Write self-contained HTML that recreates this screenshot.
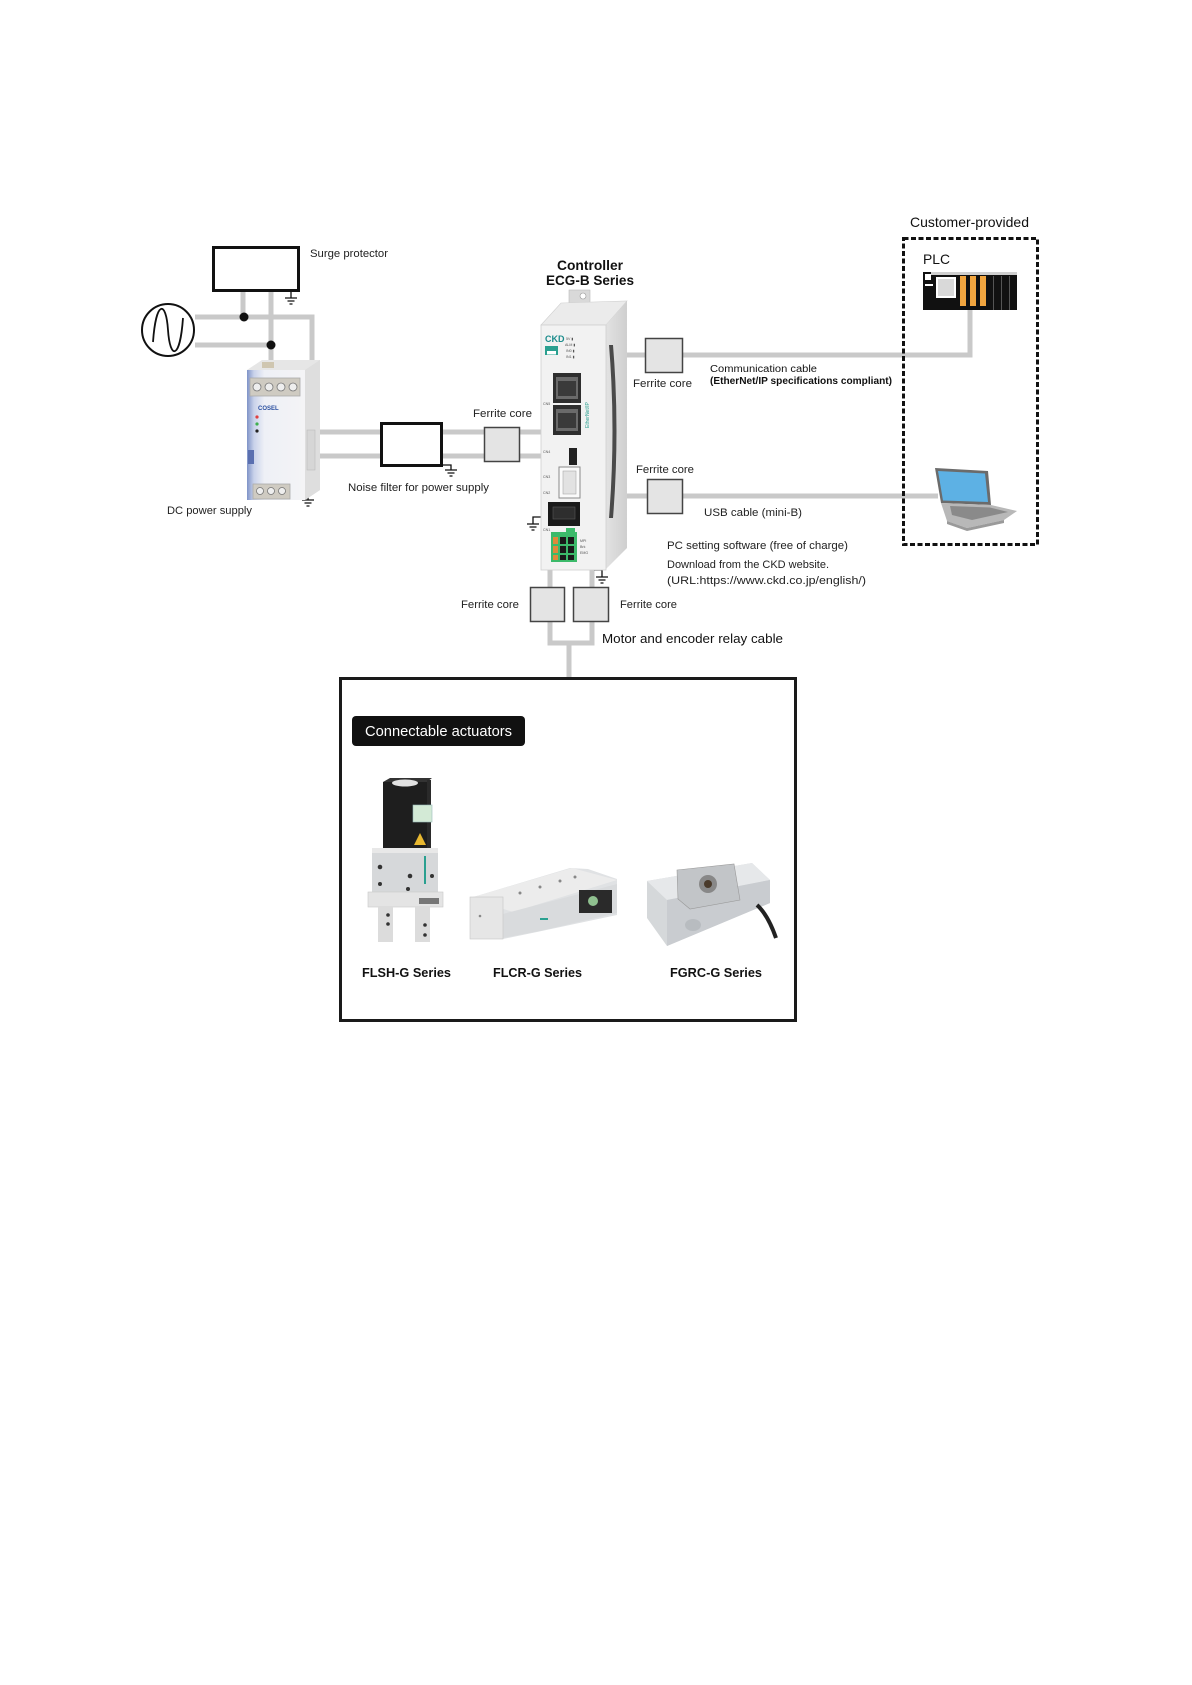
<!DOCTYPE html>
<html>
<head>
<meta charset="utf-8">
<style>
html,body{margin:0;padding:0;background:#fff;}
svg{display:block;}
text{font-family:"Liberation Sans",Arial,sans-serif;}
</style>
</head>
<body>
<svg width="1192" height="1685" viewBox="0 0 1192 1685" xmlns="http://www.w3.org/2000/svg">
<rect width="1192" height="1685" fill="#fff"/>

<!-- ===== wiring (gray cables) ===== -->
<g stroke="#c9c9c9" stroke-width="5" fill="none">
  <path d="M195 317 H312 V364"/>
  <path d="M195 345 H271"/>
  <path d="M243 292 V317"/>
  <path d="M271 292 V364"/>
  <path d="M320 432 H380 M443 432 H484 M520 432 H542"/>
  <path d="M320 456 H380 M443 456 H484 M520 456 H542"/>
  <path d="M626 355 H645 M683 355 H970 V310"/>
  <path d="M626 496 H647 M683 496 H938"/>
  <path d="M550 566 V587 M592 566 V587"/>
  <path d="M550 621 V643 H592 V621"/>
  <path d="M569 643 V677"/>
</g>

<!-- junction dots -->
<circle cx="244" cy="317" r="4.5" fill="#111"/>
<circle cx="271" cy="345" r="4.5" fill="#111"/>

<!-- AC source -->
<circle cx="168" cy="330" r="26" fill="#fff" stroke="#111" stroke-width="2"/>
<path d="M153 342 C156 300, 166 300, 168 330 C170 360, 180 360, 183 318" fill="none" stroke="#111" stroke-width="1.8"/>

<!-- Surge protector -->
<rect x="213.5" y="247.5" width="85" height="43" fill="#fff" stroke="#111" stroke-width="3"/>
<text x="310" y="257" font-size="11" textLength="78" lengthAdjust="spacingAndGlyphs" fill="#222">Surge protector</text>

<!-- ground symbols -->
<g stroke="#111" stroke-width="1.3" fill="none">
  <path d="M291 292 V298 M285 298 H297 M287.5 301 H294.5 M289.5 304 H292.5"/>
  <path d="M443 465 H451 V470 M445 470 H457 M447.5 473 H454.5 M449.5 476 H452.5"/>
  <path d="M302 493 H308 V500 M302 500 H314 M304.5 503 H311.5 M306.5 506 H309.5"/>
  <path d="M541 517 H533 V524 M527 524 H539 M529.5 527 H536.5 M531.5 530 H534.5"/>
  <path d="M594 570 H602 V577 M596 577 H608 M598.5 580 H605.5 M600.5 583 H603.5"/>
</g>

<!-- DC power supply (PSU picture) -->
<defs>
  <linearGradient id="psuFront" x1="0" x2="1" y1="0" y2="0">
    <stop offset="0" stop-color="#7f93c8"/>
    <stop offset="0.12" stop-color="#c9d2ea"/>
    <stop offset="0.3" stop-color="#eef0f6"/>
    <stop offset="1" stop-color="#f4f4f6"/>
  </linearGradient>
  <linearGradient id="ctrlSide" x1="0" x2="1" y1="0" y2="0">
    <stop offset="0" stop-color="#e2e2e2"/>
    <stop offset="1" stop-color="#cfcfcf"/>
  </linearGradient>
</defs>
<polygon points="247,370 262,360 320,360 320,490 305,500 247,500" fill="#e6e6e6"/>
<rect x="247" y="370" width="58" height="130" fill="url(#psuFront)"/>
<polygon points="305,370 320,360 320,490 305,500" fill="#dedede"/>
<rect x="262" y="362" width="12" height="6" fill="#cfc6b0"/>
<rect x="250" y="378" width="50" height="18" fill="#cfcbc2" stroke="#aaa" stroke-width="0.8"/>
<g fill="#eee" stroke="#777" stroke-width="0.8">
  <circle cx="257" cy="387" r="4"/><circle cx="269" cy="387" r="4"/><circle cx="281" cy="387" r="4"/><circle cx="293" cy="387" r="4"/>
</g>
<text x="258" y="410" font-size="6" font-weight="bold" fill="#2a4fa0">COSEL</text>
<circle cx="257" cy="417" r="1.6" fill="#e04040"/>
<circle cx="257" cy="424" r="1.6" fill="#40b050"/>
<circle cx="257" cy="431" r="1.6" fill="#222"/>
<rect x="248" y="450" width="6" height="14" fill="#5a6fb0"/>
<rect x="307" y="430" width="8" height="40" fill="#d6d6d6" stroke="#bbb" stroke-width="0.6"/>
<rect x="253" y="484" width="37" height="15" fill="#cfcbc2" stroke="#aaa" stroke-width="0.8"/>
<g fill="#eee" stroke="#777" stroke-width="0.8">
  <circle cx="260" cy="491" r="3.5"/><circle cx="271" cy="491" r="3.5"/><circle cx="282" cy="491" r="3.5"/>
</g>
<text x="167" y="514" font-size="11" textLength="85" lengthAdjust="spacingAndGlyphs" fill="#222">DC power supply</text>

<!-- Noise filter -->
<rect x="381.5" y="423.5" width="60" height="42" fill="#fff" stroke="#111" stroke-width="3"/>
<text x="348" y="491" font-size="11" textLength="141" lengthAdjust="spacingAndGlyphs" fill="#222">Noise filter for power supply</text>

<!-- Ferrite cores -->
<g fill="#e4e4e4" stroke="#444" stroke-width="1.5">
  <rect x="484.5" y="427.5" width="35" height="34"/>
  <rect x="645.5" y="338.5" width="37" height="34"/>
  <rect x="647.5" y="479.5" width="35" height="34"/>
  <rect x="530.5" y="587.5" width="34" height="34"/>
  <rect x="573.5" y="587.5" width="35" height="34"/>
</g>
<text x="473" y="417" font-size="11" textLength="59" lengthAdjust="spacingAndGlyphs" fill="#222">Ferrite core</text>
<text x="633" y="387" font-size="11" textLength="59" lengthAdjust="spacingAndGlyphs" fill="#222">Ferrite core</text>
<text x="636" y="473" font-size="11" textLength="58" lengthAdjust="spacingAndGlyphs" fill="#222">Ferrite core</text>
<text x="461" y="608" font-size="11" textLength="58" lengthAdjust="spacingAndGlyphs" fill="#222">Ferrite core</text>
<text x="620" y="608" font-size="11" textLength="57" lengthAdjust="spacingAndGlyphs" fill="#222">Ferrite core</text>

<!-- Controller title -->
<text x="557" y="270" font-size="14" font-weight="bold" textLength="66" lengthAdjust="spacingAndGlyphs" fill="#111">Controller</text>
<text x="546" y="285" font-size="14" font-weight="bold" textLength="88" lengthAdjust="spacingAndGlyphs" fill="#111">ECG-B Series</text>

<!-- Controller body -->
<rect x="569" y="290" width="21" height="18" fill="#d9d9d9" stroke="#bbb" stroke-width="0.6"/>
<circle cx="583" cy="296" r="3" fill="#fff" stroke="#999" stroke-width="0.6"/>
<polygon points="541,325 561,303 627,301 606,325" fill="#ebebeb" stroke="#d0d0d0" stroke-width="0.6"/>
<polygon points="606,325 627,301 627,548 606,569" fill="url(#ctrlSide)"/>
<path d="M609 345 Q616 430 609 518 L613 518 Q620 430 613 345 Z" fill="#4a4a4a"/>
<rect x="541" y="325" width="65" height="245" fill="#f2f2f2" stroke="#cfcfcf" stroke-width="0.8"/>
<text x="545" y="342" font-size="9" font-weight="bold" fill="#1c8c8c">CKD</text>
<rect x="545" y="346" width="13" height="9" fill="#2aa090"/>
<rect x="547" y="351" width="9" height="3.5" fill="#fff"/>
<g font-size="3.6" fill="#555">
  <text x="566" y="340">5V ▮</text>
  <text x="565" y="346">ALM ▮</text>
  <text x="566" y="352">IN0 ▮</text>
  <text x="566" y="358">IN1 ▮</text>
  <text x="543" y="405">CN5</text>
  <text x="543" y="453">CN4</text>
  <text x="543" y="478">CN3</text>
  <text x="543" y="494">CN2</text>
  <text x="543" y="531">CN1</text>
  <text x="580" y="542">MPI</text>
  <text x="580" y="548">Brk</text>
  <text x="580" y="554">EMG</text>
</g>
<!-- RJ45 -->
<rect x="553" y="373" width="28" height="30" fill="#2e2e2e"/>
<rect x="556" y="377" width="22" height="22" fill="#6a6a6a"/>
<rect x="558" y="381" width="18" height="15" fill="#3a3a3a"/>
<rect x="553" y="405" width="28" height="30" fill="#2e2e2e"/>
<rect x="556" y="409" width="22" height="22" fill="#6a6a6a"/>
<rect x="558" y="413" width="18" height="15" fill="#3a3a3a"/>
<text transform="translate(589,428) rotate(-90)" font-size="5" fill="#2aa090">EtherNet/IP</text>
<!-- CN4 -->
<rect x="569" y="448" width="8" height="17" fill="#222"/>
<!-- CN3 -->
<rect x="559" y="467" width="21" height="31" fill="#fafafa" stroke="#8a8a8a" stroke-width="1"/>
<rect x="563" y="471" width="13" height="23" fill="#e2e2e2" stroke="#aaa" stroke-width="0.6"/>
<!-- CN2 -->
<rect x="548" y="502" width="32" height="24" fill="#1a1a1a"/>
<rect x="553" y="507" width="22" height="12" fill="#2e2e2e" stroke="#555" stroke-width="0.6"/>
<!-- CN1 green -->
<rect x="551" y="532" width="26" height="30" fill="#3cba6a"/>
<rect x="566" y="528" width="9" height="6" fill="#3cba6a"/>
<g fill="#e08a3a">
  <rect x="553" y="537" width="5" height="7"/><rect x="553" y="546" width="5" height="7"/><rect x="553" y="555" width="5" height="5"/>
</g>
<g fill="#1a1a1a">
  <rect x="560" y="537" width="6" height="7"/><rect x="568" y="537" width="6" height="7"/>
  <rect x="560" y="546" width="6" height="7"/><rect x="568" y="546" width="6" height="7"/>
  <rect x="560" y="555" width="6" height="5"/><rect x="568" y="555" width="6" height="5"/>
</g>

<!-- Communication texts -->
<text x="710" y="372" font-size="10" textLength="107" lengthAdjust="spacingAndGlyphs" fill="#111">Communication cable</text>
<text x="710" y="384" font-size="10" font-weight="bold" textLength="182" lengthAdjust="spacingAndGlyphs" fill="#111">(EtherNet/IP specifications compliant)</text>
<text x="704" y="516" font-size="11" textLength="98" lengthAdjust="spacingAndGlyphs" fill="#222">USB cable (mini-B)</text>
<text x="667" y="549" font-size="11" textLength="181" lengthAdjust="spacingAndGlyphs" fill="#222">PC setting software (free of charge)</text>
<text x="667" y="568" font-size="11" textLength="162" lengthAdjust="spacingAndGlyphs" fill="#222">Download from the CKD website.</text>
<text x="667" y="584" font-size="11" textLength="199" lengthAdjust="spacingAndGlyphs" fill="#222">(URL:https://www.ckd.co.jp/english/)</text>
<text x="602" y="643" font-size="13" textLength="181" lengthAdjust="spacingAndGlyphs" fill="#111">Motor and encoder relay cable</text>

<!-- Customer-provided dashed box -->
<rect x="903.5" y="238.5" width="134" height="306" fill="none" stroke="#111" stroke-width="3" stroke-dasharray="5 2.5"/>
<text x="910" y="227" font-size="14" textLength="119" lengthAdjust="spacingAndGlyphs" fill="#111">Customer-provided</text>
<text x="923" y="264" font-size="14" textLength="27" lengthAdjust="spacingAndGlyphs" fill="#111">PLC</text>

<!-- PLC rack -->
<rect x="923" y="272" width="94" height="38" fill="#111"/>
<rect x="931" y="272" width="86" height="3" fill="#cfcfcf"/>
<rect x="925" y="274" width="6" height="6" fill="#fff"/>
<rect x="925" y="284" width="8" height="2" fill="#fff"/>
<rect x="936" y="277" width="20" height="21" fill="#fff"/>
<rect x="938" y="279" width="16" height="17" fill="#d9d9d9"/>
<rect x="960" y="276" width="6" height="30" fill="#f2a640"/>
<rect x="970" y="276" width="6" height="30" fill="#f2a640"/>
<rect x="980" y="276" width="6" height="30" fill="#f2a640"/>
<rect x="993" y="276" width="1" height="34" fill="#555"/>
<rect x="1001" y="276" width="1" height="34" fill="#555"/>
<rect x="1009" y="276" width="1" height="34" fill="#555"/>

<!-- Laptop -->
<polygon points="935,468 988,471 991,505 941,503" fill="#6b6b6b"/>
<polygon points="938,471 985,473.5 988,502 943,500.5" fill="#5db1e4"/>
<polygon points="941,503 991,505 1017,511 1004,520 967,528 947,521" fill="#b8b8b8"/>
<polygon points="950,506 990,507.5 1008,512 972,520 952,515" fill="#8a8a8a"/>
<polygon points="947,521 967,528 1004,520 1004,523 967,531 947,524" fill="#9a9a9a"/>

<!-- Actuator box -->
<rect x="340.5" y="678.5" width="455" height="342" fill="#fff" stroke="#1a1a1a" stroke-width="3"/>
<rect x="352" y="716" width="173" height="30" rx="4" fill="#111"/>
<text x="365" y="736" font-size="15" textLength="147" lengthAdjust="spacingAndGlyphs" fill="#fff">Connectable actuators</text>

<!-- FLSH-G -->
<rect x="383" y="782" width="44" height="75" fill="#1e1e1e"/>
<polygon points="383,782 390,778 432,778 427,782" fill="#333"/>
<rect x="427" y="780" width="4" height="72" fill="#2a2a2a"/>
<ellipse cx="405" cy="783" rx="13" ry="3.5" fill="#e2e2e2"/>
<rect x="413" y="805" width="19" height="17" fill="#d3ead6" stroke="#9bb" stroke-width="0.6"/>
<polygon points="420,833 426,845 414,845" fill="#e8b830"/>
<rect x="372" y="848" width="66" height="46" fill="#d6d8da"/>
<rect x="372" y="848" width="66" height="5" fill="#e8e8e8"/>
<rect x="424" y="856" width="2" height="28" fill="#2aa090"/>
<g fill="#333">
  <circle cx="380" cy="867" r="2.3"/><circle cx="410" cy="876" r="2.3"/><circle cx="380" cy="884" r="2"/><circle cx="432" cy="876" r="2"/><circle cx="408" cy="889" r="2"/>
</g>
<rect x="368" y="892" width="75" height="15" fill="#e4e4e4" stroke="#c8c8c8" stroke-width="0.6"/>
<rect x="419" y="898" width="20" height="6" fill="#777"/>
<rect x="378" y="906" width="15" height="36" fill="#dcdcdc"/>
<rect x="415" y="906" width="15" height="36" fill="#dcdcdc"/>
<g fill="#333"><circle cx="388" cy="915" r="1.8"/><circle cx="388" cy="924" r="1.8"/><circle cx="425" cy="925" r="1.8"/><circle cx="425" cy="935" r="1.8"/></g>

<!-- FLCR-G -->
<polygon points="470,898 570,868 588,869 617,879 617,915 537,932 503,939 470,921" fill="#e0e2e4"/>
<polygon points="470,898 572,868 617,880 513,912" fill="#ececec"/>
<polygon points="503,914 617,884 617,913 540,931 503,938" fill="#d9dbdd"/>
<rect x="470" y="897" width="33" height="42" fill="#e6e6e6" stroke="#c6c6c6" stroke-width="0.6"/>
<rect x="579" y="890" width="33" height="23" fill="#2a2a2a"/>
<circle cx="593" cy="901" r="5" fill="#8fc08f"/>
<rect x="540" y="918" width="8" height="2" fill="#2aa090"/>
<g fill="#888"><circle cx="520" cy="893" r="1.5"/><circle cx="540" cy="887" r="1.5"/><circle cx="560" cy="881" r="1.5"/><circle cx="575" cy="877" r="1.5"/><circle cx="480" cy="916" r="1.3"/></g>

<!-- FGRC-G -->
<polygon points="647,881 752,863 770,880 770,903 667,946 647,918" fill="#d5d8da"/>
<polygon points="647,881 752,863 770,880 667,900" fill="#e6e8ea"/>
<polygon points="667,900 770,880 770,903 667,946" fill="#c9ccd0"/>
<polygon points="677,870 734,864 740,900 690,909 678,899" fill="#c2c5c8" stroke="#999" stroke-width="0.6"/>
<circle cx="708" cy="884" r="9" fill="#888"/>
<circle cx="708" cy="884" r="4" fill="#4a3a2a"/>
<ellipse cx="693" cy="925" rx="8" ry="6" fill="#b8bcc0"/>
<path d="M757 905 Q768 915 776 938" stroke="#222" stroke-width="4" fill="none"/>

<text x="362" y="977" font-size="13" font-weight="bold" textLength="89" lengthAdjust="spacingAndGlyphs" fill="#111">FLSH-G Series</text>
<text x="493" y="977" font-size="13" font-weight="bold" textLength="89" lengthAdjust="spacingAndGlyphs" fill="#111">FLCR-G Series</text>
<text x="670" y="977" font-size="13" font-weight="bold" textLength="92" lengthAdjust="spacingAndGlyphs" fill="#111">FGRC-G Series</text>
</svg>
</body>
</html>
